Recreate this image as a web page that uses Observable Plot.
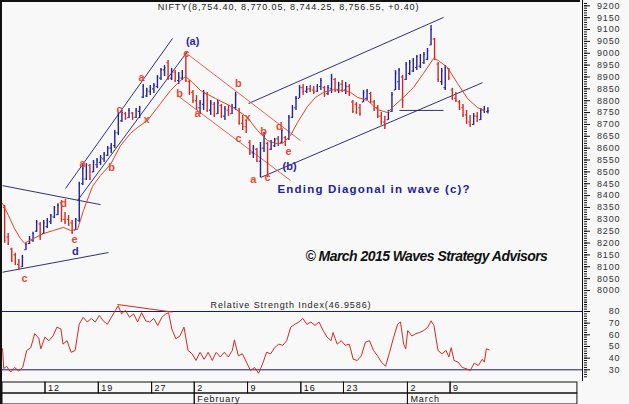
<!DOCTYPE html>
<html><head><meta charset="utf-8">
<script src="https://cdn.jsdelivr.net/npm/d3@7"></script>
<script src="https://cdn.jsdelivr.net/npm/@observablehq/plot@0.6"></script>
<style>
html,body{margin:0;padding:0;background:#f8f8f8;}
#wrap{position:relative;width:629px;height:404px;overflow:hidden;background:#f8f8f8;font-family:"Liberation Sans",Arial,sans-serif;}
#wrap .panel{position:absolute;left:0;}
#wrap svg{overflow:visible;display:block;}
.frame{position:absolute;left:0;top:0;width:580px;height:404px;border-left:2px solid #111;border-top:2px solid #111;box-sizing:border-box;pointer-events:none;}
.spine{position:absolute;left:582px;top:0;width:1px;height:381px;background:#111;}
g[font-size="9"]{letter-spacing:0.9px;}
g[font-size="11.5"]{letter-spacing:1.2px;}
g[font-size="14"]{letter-spacing:-0.55px;}
</style></head><body><div id="wrap"></div>
<script>
// ---------- DATA ----------
const title = "NIFTY(8,754.40, 8,770.05, 8,744.25, 8,756.55, +0.40)";
const rsiTitle = "Relative Strength Index(46.9586)";

// price bars, 3 sessions per trading day, first session on Jan 6 2015 (day index -4, Jan 12 = 0)
const hi = [8358,8240,8178,8157,8131,8148,8199,8228,8245,8295,
8287,8295,8303,8320,8354,8366,8379,8329,8316,8295,
8303,8456,8527,8535,8531,8548,8556,8569,8582,8607,
8620,8674,8750,8759,8750,8767,8750,8767,8776,8868,
8852,8864,8873,8906,8936,8948,8969,8936,8927,8919,
8927,8999,8885,8843,8822,8801,8843,8835,8801,8792,
8801,8784,8776,8780,8784,8835,8767,8738,8717,8632,
8611,8599,8624,8666,8624,8632,8641,8649,8683,8649,
8738,8780,8818,8864,8868,8860,8864,8860,8868,8894,
8860,8864,8911,8894,8877,8885,8877,8868,8801,8792,
8784,8843,8847,8835,8801,8780,8750,8734,8759,8835,
8927,8936,8906,8961,8969,8978,8990,8995,9003,9020,
9117,9062,8961,8936,8948,8936,8852,8835,8801,8784,
8759,8738,8746,8750,8767,8776,8770];
const lo = [8199,8190,8119,8106,8085,8097,8169,8194,8203,8245,
8211,8236,8261,8278,8303,8316,8287,8278,8270,8236,
8253,8287,8443,8464,8464,8497,8514,8527,8539,8565,
8577,8599,8653,8708,8717,8725,8717,8725,8725,8809,
8814,8822,8830,8851,8885,8902,8885,8885,8877,8868,
8885,8877,8822,8788,8759,8742,8759,8750,8738,8729,
8742,8725,8717,8734,8742,8759,8696,8674,8662,8569,
8556,8539,8476,8582,8476,8590,8603,8607,8620,8607,
8632,8725,8759,8809,8822,8830,8835,8826,8835,8843,
8814,8822,8830,8835,8830,8835,8826,8818,8746,8742,
8734,8792,8801,8788,8755,8725,8696,8679,8717,8750,
8843,8843,8767,8885,8906,8919,8927,8936,8953,8969,
9032,8969,8877,8864,8843,8885,8801,8792,8759,8729,
8700,8687,8696,8708,8717,8746,8744];
const op = [8350,8225,8175,8150,8110,8100,8172,8198,8210,8250,
8280,8240,8270,8290,8310,8320,8370,8300,8300,8285,
8255,8295,8450,8470,8528,8500,8530,8540,8555,8570,
8600,8610,8665,8715,8745,8728,8748,8730,8755,8815,
8820,8840,8850,8860,8895,8930,8960,8895,8920,8885,
8895,8990,8880,8835,8800,8770,8785,8830,8760,8785,
8745,8780,8735,8760,8745,8770,8760,8705,8690,8625,
8580,8595,8545,8600,8620,8595,8610,8640,8625,8645,
8640,8730,8770,8810,8855,8840,8850,8845,8840,8860,
8855,8830,8850,8890,8845,8870,8845,8860,8795,8785,
8770,8795,8810,8830,8795,8770,8735,8710,8720,8755,
8845,8880,8900,8890,8915,8925,8940,8945,8960,8975,
9035,9060,8955,8880,8855,8935,8845,8810,8795,8770,
8740,8710,8700,8735,8720,8760,8754];
const cl = [8210,8195,8125,8110,8095,8140,8195,8220,8240,8290,
8230,8285,8295,8315,8350,8360,8300,8290,8280,8245,
8300,8450,8515,8530,8470,8540,8550,8560,8575,8600,
8610,8665,8740,8750,8725,8760,8730,8760,8770,8860,
8845,8855,8865,8900,8930,8940,8895,8925,8885,8900,
8920,8885,8830,8800,8770,8790,8830,8760,8790,8740,
8790,8735,8765,8745,8775,8825,8705,8690,8670,8580,
8600,8545,8600,8650,8500,8625,8635,8615,8675,8615,
8730,8770,8810,8855,8840,8850,8845,8835,8860,8885,
8825,8855,8900,8845,8865,8845,8860,8825,8755,8750,
8745,8835,8840,8795,8765,8735,8710,8695,8750,8825,
8915,8930,8800,8955,8960,8970,8985,8990,8995,9010,
9100,8980,8890,8925,8940,8895,8810,8800,8765,8740,
8710,8700,8735,8715,8760,8765,8757];

// red moving average (trading-day position, value)
const maT = [-4.03,-3.47,-2.91,-2.35,-1.97,-1.13,-0.19,0.75,1.69,2.35,3.0,3.56,4.41,5.16,6.10,7.04,7.97,8.63,9.57,10.79,11.73,12.38,13.13,13.79,14.54,15.95,17.64,18.95,19.89,20.83,21.58,22.23,22.98,23.64,24.58,25.33,26.08,27.02,27.95,28.61,29.27,30.21,31.14,32.08,32.65,33.58,34.52,35.46,36.40,36.87,37.71,38.65,39.59,40.53,41.18];
const maV = [8367,8316,8261,8219,8199,8219,8240,8253,8266,8253,8257,8337,8439,8485,8531,8611,8662,8687,8717,8788,8843,8873,8902,8877,8843,8809,8771,8729,8674,8632,8620,8620,8653,8708,8776,8814,8835,8847,8843,8835,8814,8801,8763,8750,8776,8814,8856,8915,8978,8969,8940,8873,8809,8771,8759];

// RSI (trading-day position, value)
const rsiT = [-4.03,-3.92,-3.65,-3.27,-2.90,-2.52,-2.14,-1.76,-1.38,-1.01,
-0.63,-0.44,-0.06,0.32,0.70,1.07,1.45,1.64,2.02,2.40,
2.78,3.16,3.53,3.91,4.29,4.67,5.05,5.42,5.80,6.18,
6.56,6.82,7.13,7.50,7.88,8.26,8.64,9.02,9.40,9.77,
10.15,10.53,10.91,11.29,11.55,11.85,12.23,12.61,12.99,13.37,
13.75,14.12,14.50,14.88,15.26,15.64,16.01,16.39,16.77,17.15,
17.53,17.72,18.09,18.47,18.85,19.23,19.61,19.99,20.36,20.74,
21.12,21.50,21.88,22.26,22.63,23.01,23.39,23.77,24.15,24.52,
24.90,25.28,25.66,26.04,26.42,26.79,26.98,27.36,27.74,28.12,
28.50,28.87,29.25,29.63,30.01,30.39,30.77,31.14,31.52,31.90,
32.28,32.66,33.03,33.30,33.60,33.79,33.98,34.36,34.74,35.11,
35.49,35.87,36.17,36.44,36.82,37.19,37.57,37.84,38.06,38.33,
38.71,39.09,39.46,39.84,40.22,40.60,40.98,41.17,41.36,41.62];
const rsiV = [48,31,33,28,32,29,32,46.6,49,61,
57,48,58,55,59,66.6,65,52,55,45,
46.6,69,75,71,74,71,76.6,72,69,75,
81,85,78,81,75,78,71,79,72,71,
74,68,75,78,79,65,56.6,59,66.6,46.6,
43.7,38,45,39,45,38,45,41,45,41,
46.6,55.7,42,43.7,36.6,29.4,32,27,35,45,
43.7,49,52,51,55,66.6,69,71,74,69,
71,68,71,63.7,58,55,62,52,55,51,
52,39,38,42,53.7,55,46.6,42,36.6,33,
45,58,69,71,52,48,63.7,59,61,62,
63.7,66.6,72,68,46.6,43.7,46.6,41,49,38,
36.6,32,31,29.4,35.7,33.7,39,36.6,48,47];
const rsiLevels = [80, 30];
const rsiDivergence = [[6.75, 86], [11.91, 79.5]];

// trend / channel lines [t1, price1, t2, price2]
const blueLines = [
  [-4.03, 8077, 5.91, 8160],
  [-4.03, 8442, 5.16, 8362],
  [1.88, 8430, 11.91, 9062],
  [3.0, 8379, 13.32, 9008],
  [19.04, 8788, 37.34, 9151],
  [20.17, 8476, 41.0, 8876],
  [33.2, 8759, 37.34, 8759]
];
const redLines = [
  [13.13, 9003, 23.92, 8632],
  [12.38, 8822, 22.98, 8464]
];

// wave labels
const waveText = ["c","d","e","d","a","b","c","x","a","c","(a)","b","a","b","x","c","b","a","c","d","e","(b)"];
const waveT = [-1.97,1.69,2.72,2.81,3.47,6.19,6.94,9.47,9.0,13.2,13.8,12.57,14.26,18.1,18.95,18.1,20.45,19.5,20.83,21.95,22.8,22.9];
const waveP = [8051,8367,8217,8163,8535,8519,8765,8720,8898,8998,9050,8830,8746,8872,8729,8641,8670,8468,8476,8691,8586,8523];
const waveKind = ["r","r","r","b","r","r","r","r","r","r","b","r","r","r","r","r","r","r","r","r","r","b"];

const note = {text: "Ending Diagonal in wave (c)?", t: 21.76, p: 8426};
const credit = {text: "\u00A9 March 2015 Waves Strategy Advisors", t: 24.39, p: 8143};

// axes
const priceTicks = [9200,9150,9100,9050,9000,8950,8900,8850,8800,8750,8700,8650,8600,8550,8500,8450,8400,8350,8300,8250,8200,8150,8100,8050,8000];
const rsiTicks = [80,70,60,50,40,30];
const dayStarts = [-4.034, 0, 5, 10, 14, 19, 24, 28, 34, 38];
const dayLabels = ["", "12", "19", "27", "2", "9", "16", "23", "2", "9"];
const monthStarts = [-4.034, 14, 34];
const monthLabels = ["", "February", "March"];
const axisEnd = 49.9;

// ---------- STYLE ----------
const BLUE = "#22229c", RED = "#d8281e", MA = "#e2431e", NAVY = "#1a1a70", REDLINE = "#e05040";
const LBL_RED = "#e84a30", LBL_BLUE = "#2a2aa0";
const xDomain = [-4.034, 50.47], xRange = [2, 583];
const FONT = "Liberation Sans, Arial, sans-serif";

const bars = hi.map((h, i) => ({t: -4 + (i + 0.5) / 3, hi: h, lo: lo[i], op: op[i], cl: cl[i]}));
const barColor = d => d.cl >= d.op ? BLUE : RED;
const ma = maT.map((t, i) => ({t, v: maV[i]}));
const rsi = rsiT.map((t, i) => ({t, v: rsiV[i]}));
const waves = waveText.map((s, i) => ({s, t: waveT[i], p: waveP[i], k: waveKind[i]}));

// minor ticks only (no labels)
function minorTicks(values) {
  if (Plot.axisTickY) return Plot.axisTickY(values, {anchor: "right", tickSize: 3, stroke: "#111", label: null});
  return Plot.axisY(values, {anchor: "right", tickSize: 3, tickFormat: () => "", stroke: "#111", label: null});
}

const priceChart = Plot.plot({
  width: 629, height: 300,
  marginLeft: 2, marginRight: 46, marginTop: 5.3, marginBottom: 10,
  x: {domain: xDomain, range: xRange, axis: null, label: null},
  y: {domain: [8000, 9200], range: [290, 5.3], label: null},
  color: {type: "identity"},
  style: {background: "transparent", fontFamily: FONT, overflow: "visible"},
  marks: [
    minorTicks(d3.range(7940, 9211, 10)),
    Plot.axisY(priceTicks, {anchor: "right", tickSize: 6, tickPadding: 31, textAnchor: "end", tickFormat: d => String(d), fontSize: 9, fill: "#333", stroke: "#111", label: null}),
    Plot.link(blueLines, {x1: d => d[0], y1: d => d[1], x2: d => d[2], y2: d => d[3], stroke: NAVY, strokeWidth: 0.9}),
    Plot.link(redLines, {x1: d => d[0], y1: d => d[1], x2: d => d[2], y2: d => d[3], stroke: REDLINE, strokeWidth: 0.9}),
    Plot.ruleX(bars, {x: "t", y1: "lo", y2: "hi", stroke: barColor, strokeWidth: 1.4}),
    Plot.ruleY(bars, {y: "op", x1: d => d.t - 0.12, x2: "t", stroke: barColor, strokeWidth: 1.1}),
    Plot.ruleY(bars, {y: "cl", x1: "t", x2: d => d.t + 0.12, stroke: barColor, strokeWidth: 1.1}),
    Plot.line(ma, {x: "t", y: "v", stroke: MA, strokeWidth: 1}),
    Plot.text(waves, {x: "t", y: "p", text: "s", fill: d => d.k === "b" ? LBL_BLUE : LBL_RED, fontSize: 11, fontWeight: "bold"}),
    Plot.text([note], {x: "t", y: "p", text: "text", textAnchor: "start", fill: "#22229a", fontSize: 11.5, fontWeight: "bold"}),
    Plot.text([credit], {x: "t", y: "p", text: "text", textAnchor: "start", fill: "#111", fontSize: 14, fontWeight: "bold", fontStyle: "italic"}),
    Plot.text([title], {frameAnchor: "top", lineAnchor: "middle", dx: -4.5, dy: 1.4, fontSize: 9, fill: "#222"})
  ]
});

const rsiChart = Plot.plot({
  width: 629, height: 81,
  marginLeft: 2, marginRight: 46, marginTop: 11, marginBottom: 11.7,
  x: {domain: xDomain, range: xRange, axis: null, label: null},
  y: {domain: [30, 80], range: [69.3, 11], label: null},
  style: {background: "transparent", fontFamily: FONT, overflow: "visible"},
  marks: [
    minorTicks(d3.range(24, 89, 2)),
    Plot.axisY(rsiTicks, {anchor: "right", tickSize: 6, tickPadding: 31, textAnchor: "end", tickFormat: d => String(d), fontSize: 9, fill: "#333", stroke: "#111", label: null}),
    Plot.ruleY(rsiLevels, {stroke: NAVY, strokeWidth: 1}),
    Plot.line(rsi, {x: "t", y: "v", stroke: "#d42a20", strokeWidth: 1}),
    Plot.link([rsiDivergence], {x1: d => d[0][0], y1: d => d[0][1], x2: d => d[1][0], y2: d => d[1][1], stroke: "#d42a20", strokeWidth: 1}),
    Plot.text([rsiTitle], {frameAnchor: "top", lineAnchor: "middle", dx: -2, dy: -6, fontSize: 9, fill: "#222"})
  ]
});

const dayCells = dayStarts.map((s, i) => ({x1: s, x2: i + 1 < dayStarts.length ? dayStarts[i + 1] : axisEnd, row: "day", label: dayLabels[i]}));
const monthCells = monthStarts.map((s, i) => ({x1: s, x2: i + 1 < monthStarts.length ? monthStarts[i + 1] : axisEnd, row: "month", label: monthLabels[i]}));
const cells = dayCells.concat(monthCells);

const dateAxis = Plot.plot({
  width: 629, height: 23,
  marginLeft: 2, marginRight: 46, marginTop: 0, marginBottom: 0,
  x: {domain: xDomain, range: xRange, axis: null, label: null},
  y: {type: "band", domain: ["day", "month"], range: [0.5, 22.5], padding: 0, axis: null, label: null},
  style: {background: "transparent", fontFamily: FONT, overflow: "visible"},
  marks: [
    Plot.barX(cells, {x1: "x1", x2: "x2", y: "row", fill: "none", stroke: "#111", strokeWidth: 1}),
    Plot.text(cells, {x: "x1", y: "row", text: "label", textAnchor: "start", dx: 2.5, dy: 0.5, fontSize: 9, fill: "#111"})
  ]
});

const wrap = document.getElementById("wrap");
function place(node, top) {
  const d = document.createElement("div");
  d.className = "panel";
  d.style.top = top + "px";
  d.appendChild(node);
  wrap.appendChild(d);
}
place(priceChart, 0);
place(rsiChart, 300);
place(dateAxis, 381);
const fr = document.createElement("div"); fr.className = "frame"; wrap.appendChild(fr);
const sp = document.createElement("div"); sp.className = "spine"; wrap.appendChild(sp);
</script></body></html>
